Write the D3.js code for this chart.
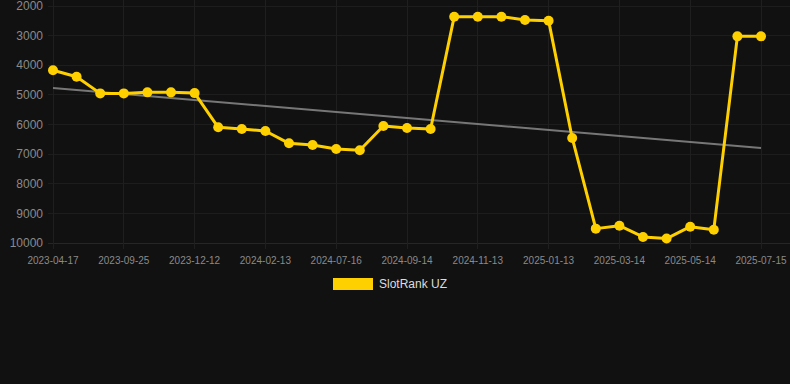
<!DOCTYPE html>
<html>
<head>
<meta charset="utf-8">
<script src="https://cdn.jsdelivr.net/npm/d3@7"></script>
<style>
  body { margin: 0; background: #111111; }
  #chart { width: 790px; height: 384px; }
  text { font-family: "Liberation Sans", Arial, sans-serif; }
</style>
</head>
<body>
<div id="chart"></div>
<script>
// dates on the x axis (one per point), only every third is labelled
const dates = [
  "2023-04-17", "2023-05-29", "2023-07-10", "2023-09-25", "2023-10-20", "2023-11-15",
  "2023-12-12", "2024-01-05", "2024-01-20", "2024-02-13", "2024-04-10", "2024-06-01",
  "2024-07-16", "2024-08-05", "2024-08-25", "2024-09-14", "2024-10-05", "2024-10-24",
  "2024-11-13", "2024-12-05", "2024-12-25", "2025-01-13", "2025-02-01", "2025-02-22",
  "2025-03-14", "2025-04-03", "2025-04-24", "2025-05-14", "2025-06-03", "2025-06-24",
  "2025-07-15"
];
const slotRank = [
  4170, 4390, 4950, 4950, 4915, 4915, 4940, 6095, 6150, 6220, 6635, 6690, 6825, 6870,
  6050, 6120, 6150, 2360, 2360, 2360, 2470, 2495, 6455, 9515, 9415, 9795, 9850, 9450,
  9550, 3025, 3025
];
const yTicks = [2000, 3000, 4000, 5000, 6000, 7000, 8000, 9000, 10000];
const seriesName = "SlotRank UZ";

const width = 790, height = 384;
const lineColor = "#ffd000";

const svg = d3.select("#chart").append("svg")
  .attr("width", width)
  .attr("height", height);

svg.append("rect").attr("width", width).attr("height", height).attr("fill", "#111111");

// x: evenly spaced categories
const x = d3.scalePoint().domain(dates).range([53, 761]);
// y: rank, reversed (2000 at the top)
const y = d3.scaleLinear().domain([2000, 10000]).range([6, 243]);

// horizontal grid
svg.append("g")
  .selectAll("line")
  .data(yTicks)
  .join("line")
  .attr("x1", 48).attr("x2", width)
  .attr("y1", d => y(d)).attr("y2", d => y(d))
  .attr("stroke", d => d === 10000 ? "#262626" : "#1d1d1d")
  .attr("stroke-width", 1)
  .attr("shape-rendering", "crispEdges");

// vertical grid at labelled dates
const labelled = dates.filter((d, i) => i % 3 === 0);
svg.append("g")
  .selectAll("line")
  .data(labelled)
  .join("line")
  .attr("x1", d => x(d)).attr("x2", d => x(d))
  .attr("y1", 0).attr("y2", 249)
  .attr("stroke", "#1f1f1f")
  .attr("shape-rendering", "crispEdges");

// y labels
svg.append("g")
  .selectAll("text")
  .data(yTicks)
  .join("text")
  .attr("x", 43)
  .attr("y", d => y(d))
  .attr("dy", "0.35em")
  .attr("text-anchor", "end")
  .attr("fill", "#8a8a8a")
  .style("font-size", "12px")
  .text(d => d);

// x labels
svg.append("g")
  .selectAll("text")
  .data(labelled)
  .join("text")
  .attr("x", d => x(d))
  .attr("y", 260)
  .attr("dy", "0.35em")
  .attr("text-anchor", "middle")
  .attr("fill", "#8a8a8a")
  .style("font-size", "10px")
  .text(d => d);

// linear trend (least squares over the point index)
const n = slotRank.length;
const meanI = (n - 1) / 2;
const meanV = d3.mean(slotRank);
const slope = d3.sum(slotRank, (v, i) => (i - meanI) * (v - meanV)) /
  d3.sum(slotRank, (v, i) => (i - meanI) * (i - meanI));
const trend = [0, n - 1].map(i => ({ date: dates[i], value: meanV + slope * (i - meanI) }));

svg.append("path")
  .datum(trend)
  .attr("fill", "none")
  .attr("stroke", "#777777")
  .attr("stroke-width", 2)
  .attr("d", d3.line().x(d => x(d.date)).y(d => y(d.value)));

// series line + points
const data = dates.map((d, i) => ({ date: d, value: slotRank[i] }));

svg.append("path")
  .datum(data)
  .attr("fill", "none")
  .attr("stroke", lineColor)
  .attr("stroke-width", 3)
  .attr("stroke-linejoin", "round")
  .attr("d", d3.line().x(d => x(d.date)).y(d => y(d.value)));

svg.append("g")
  .selectAll("circle")
  .data(data)
  .join("circle")
  .attr("cx", d => x(d.date))
  .attr("cy", d => y(d.value))
  .attr("r", 5)
  .attr("fill", lineColor);

// legend
const legend = svg.append("g").attr("transform", "translate(333,278)");
legend.append("rect").attr("width", 40).attr("height", 12).attr("fill", lineColor);
legend.append("text")
  .attr("x", 46).attr("y", 6).attr("dy", "0.35em")
  .attr("fill", "#dddddd")
  .style("font-size", "12px")
  .text(seriesName);
</script>
</body>
</html>
